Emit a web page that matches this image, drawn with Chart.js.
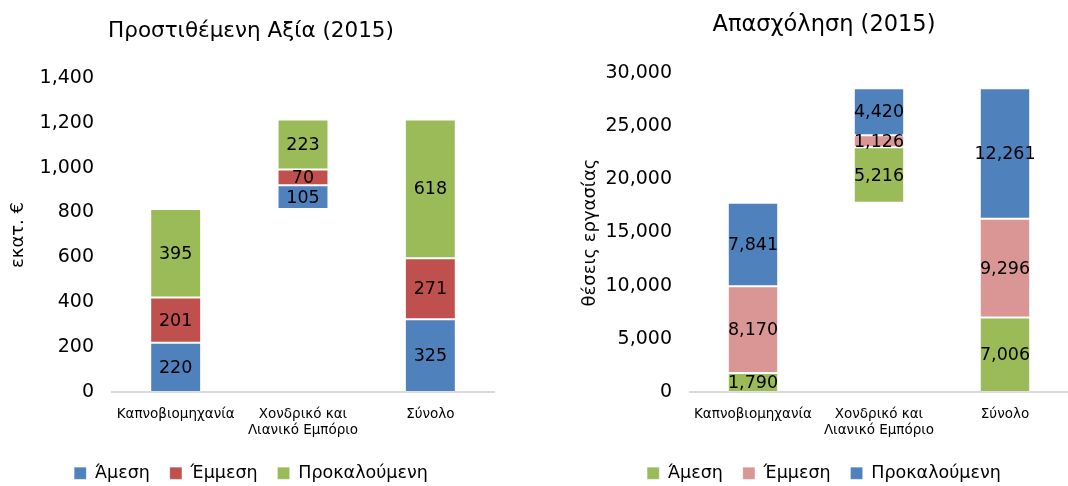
<!DOCTYPE html>
<html>
<head>
<meta charset="utf-8">
<script src="https://cdn.jsdelivr.net/npm/chart.js@4/dist/chart.umd.min.js"></script>
<style>
  body { margin: 0; background: #fff; }
  #wrap { position: relative; width: 1068px; height: 486px; }
  .box { position: absolute; top: 0; width: 534px; height: 486px; }
</style>
</head>
<body>
<div id="wrap">
  <div class="box" style="left:0"><canvas id="gva" width="534" height="486"></canvas></div>
  <div class="box" style="left:534px"><canvas id="jobs" width="534" height="486"></canvas></div>
</div>
<script>
var categories = [['Καπνοβιομηχανία'], ['Χονδρικό και', 'Λιανικό Εμπόριο'], ['Σύνολο']];
var seriesNames = ['Άμεση', 'Έμμεση', 'Προκαλούμενη'];

// Προστιθέμενη αξία, εκατ. €
var gvaDirect = [220, 105, 325];
var gvaIndirect = [201, 70, 271];
var gvaInduced = [395, 223, 618];
var gvaTicks = [0, 200, 400, 600, 800, 1000, 1200, 1400];

// Απασχόληση, θέσεις εργασίας
var jobsDirect = [1790, 5216, 7006];
var jobsIndirect = [8170, 1126, 9296];
var jobsInduced = [7841, 4420, 12261];
var jobsTicks = [0, 5000, 10000, 15000, 20000, 25000, 30000];

var FONT = "'DejaVu Sans', Verdana, sans-serif";
var fmt = function (v) { return v.toLocaleString('en-US'); };

// waterfall: the middle bar starts where the first one ends
function buildDatasets(series, colors) {
  var start = [0, 0, 0];
  start[1] = series[0][0] + series[1][0] + series[2][0];
  var acc = start.slice();
  return series.map(function (vals, i) {
    var data = vals.map(function (v, j) {
      var lo = acc[j];
      acc[j] += v;
      return [lo, acc[j]];
    });
    return {
      label: seriesNames[i],
      data: data,
      values: vals,
      backgroundColor: colors[i],
      borderColor: 'rgba(255,255,255,0.2)',
      borderWidth: 1,
      borderSkipped: false,
      barPercentage: 0.4,
      categoryPercentage: 1
    };
  });
}

// numbers inside each segment
var segmentLabels = {
  id: 'segmentLabels',
  afterDatasetsDraw: function (chart) {
    var ctx = chart.ctx;
    ctx.save();
    ctx.font = '17.5px ' + FONT;
    ctx.fillStyle = '#000';
    ctx.textAlign = 'center';
    ctx.textBaseline = 'middle';
    chart.data.datasets.forEach(function (ds, i) {
      chart.getDatasetMeta(i).data.forEach(function (bar, j) {
        ctx.fillText(fmt(ds.values[j]), bar.x, (bar.y + bar.base) / 2 + 1);
      });
    });
    ctx.restore();
  }
};

function makeChart(id, o) {
  var max = o.ticks[o.ticks.length - 1];
  return new Chart(document.getElementById(id), {
    type: 'bar',
    data: { labels: categories, datasets: buildDatasets(o.series, o.colors) },
    plugins: [segmentLabels],
    options: {
      responsive: false,
      animation: false,
      layout: { padding: o.pad },
      plugins: {
        title: {
          display: true,
          text: o.title,
          color: '#000',
          font: { family: FONT, size: o.titleSize, weight: 'normal' },
          padding: { top: o.titleTop, bottom: o.titleBottom }
        },
        legend: {
          position: 'bottom',
          labels: {
            color: '#000',
            font: { family: FONT, size: 17.5 },
            boxWidth: 12,
            boxHeight: 12,
            padding: 20
          }
        },
        tooltip: { enabled: false }
      },
      scales: {
        x: {
          stacked: true,
          grid: { display: false },
          border: { color: '#d9d9d9', width: 2 },
          ticks: { color: '#000', font: { family: FONT, size: 13.5 }, padding: 6, maxRotation: 0 }
        },
        y: {
          stacked: false,
          min: 0,
          max: max,
          afterBuildTicks: function (scale) {
            scale.ticks = o.ticks.map(function (v) { return { value: v }; });
          },
          afterFit: function (scale) { scale.width = o.yWidth; },
          grid: { display: false },
          border: { display: false },
          title: {
            display: true,
            text: o.yTitle,
            color: '#000',
            font: { family: FONT, size: 18 },
            padding: 0
          },
          ticks: {
            color: '#000',
            font: { family: FONT, size: 19 },
            padding: 10,
            callback: function (v) { return fmt(v); }
          }
        }
      }
    }
  });
}

makeChart('gva', {
  title: 'Προστιθέμενη Αξία (2015)', titleSize: 21.5, titleTop: 19, titleBottom: 33,
  yTitle: 'εκατ. €',
  series: [gvaDirect, gvaIndirect, gvaInduced],
  colors: ['#4f81bd', '#c0504d', '#9bbb59'],
  ticks: gvaTicks,
  pad: { left: 8, right: 40, bottom: -6 }, yWidth: 104
});

makeChart('jobs', {
  title: 'Απασχόληση (2015)', titleSize: 22.5, titleTop: 12, titleBottom: 34,
  yTitle: 'θέσεις εργασίας',
  series: [jobsDirect, jobsIndirect, jobsInduced],
  colors: ['#9bbb59', '#da9694', '#4f81bd'],
  ticks: jobsTicks,
  pad: { left: 46, right: 0, bottom: -6 }, yWidth: 110
});
</script>
</body>
</html>
